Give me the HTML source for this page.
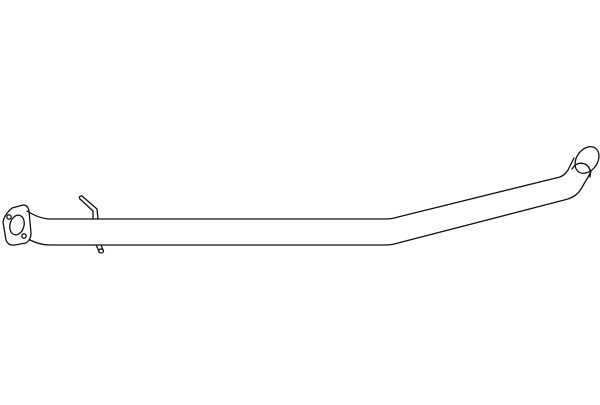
<!DOCTYPE html>
<html><head><style>html,body{margin:0;padding:0;background:#fff}</style></head>
<body>
<svg width="600" height="400" viewBox="0 0 600 400" xmlns="http://www.w3.org/2000/svg" fill="none" stroke="#111" stroke-width="1.3" stroke-linejoin="round" stroke-linecap="round">
<rect width="600" height="400" fill="#fff" stroke="none"/>
<path d="M27 211 Q38 218 48 219 L385 219 Q392 219 398 217 L560 177 Q565 175 568 170 L574 158"/>
<path d="M30 240 Q40 245 50 245 L385 245 Q392 245 398 243 L568 199 Q577 196 581 189 L591 172"/>
<ellipse cx="587" cy="160" rx="10.5" ry="14.5" transform="rotate(35 587 160)"/>
<path d="M572 169 Q577 161 585 164 Q592 168 590 177"/>
<path d="M3 222 Q4 215 12 208 L23 205 Q28 205 29 211 L31 233 Q31 240 26 243 L15 245 Q8 246 6 240 Z"/>
<ellipse cx="17" cy="225" rx="7" ry="10" transform="rotate(15 17 225)"/>
<circle cx="9" cy="217" r="2.2"/>
<circle cx="24" cy="236" r="2.2"/>
<path d="M80 199 L93 211 L93 219 M82 196 L97 209 L98 219"/>
<path d="M80 199 Q78 196 82 196"/>
<path d="M96 245 L99 251 M101 245 L103 250"/>
<ellipse cx="101" cy="251" rx="2.5" ry="2"/>
</svg>
</body></html>
